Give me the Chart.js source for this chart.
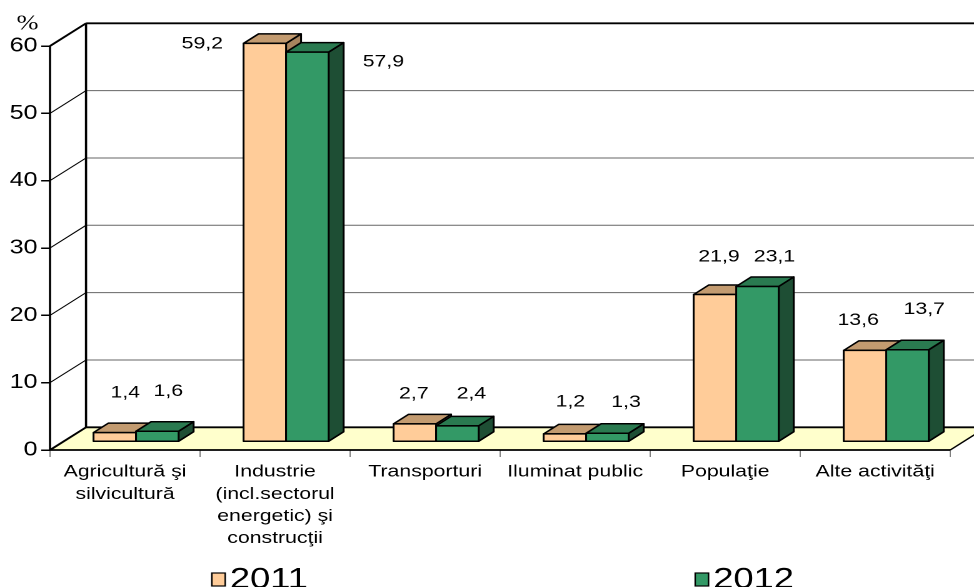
<!DOCTYPE html>
<html>
<head>
<meta charset="utf-8">
<script src="https://cdn.jsdelivr.net/npm/chart.js@4"></script>
<style>
html,body{margin:0;padding:0;background:#fff;overflow:hidden;width:974px;height:587px}
#wrap{width:779px;height:587px;transform:scaleX(1.25032);transform-origin:0 0}
</style>
</head>
<body>
<div id="wrap"><canvas id="c" width="779" height="587"></canvas></div>
<script>
// ---- data ----
const categories = [
  ['Agricultură şi', 'silvicultură'],
  ['Industrie', '(incl.sectorul', 'energetic) şi', 'construcţii'],
  'Transporturi',
  'Iluminat public',
  'Populaţie',
  'Alte activităţi'
];
const seriesNames = ['2011', '2012'];
const values2011 = [1.4, 59.2, 2.7, 1.2, 21.9, 13.6];
const values2012 = [1.6, 57.9, 2.4, 1.3, 23.1, 13.7];
const yTicks = [0, 10, 20, 30, 40, 50, 60];
const unitLabel = '%';

// ---- style ----
const FONT = "'Liberation Sans', Arial, sans-serif";
const faceColors = [
  {front: '#FFCC99', top: '#C39B70', side: '#A8845E'},
  {front: '#339966', top: '#2A7A50', side: '#1E4E34'}
];
const DEPTH = {dx: 28.8, dy: -22.7};      // floor / back wall depth
const BAR_SHIFT = {dx: 8.8, dy: -8};      // bars sit inside the floor
const BAR_DEPTH = {dx: 12, dy: -9.5};     // bar thickness
// data label nudges (logical px) relative to bar front-top centre
const labelNudge = [
  [[8.4, -39.6], [-50, 0.6], [-0.8, -30], [4.4, -32], [3.2, -37.5], [-5.4, -30]],
  [[8.8, -40], [60.8, 9.5], [11.2, -32], [14.9, -31], [13.6, -29.5], [13.4, -40.5]]
];

function fmt(v) { return v.toFixed(1).replace('.', ','); }

function line(ctx, pts, w, col) {
  ctx.beginPath();
  ctx.moveTo(pts[0][0], pts[0][1]);
  for (let i = 1; i < pts.length; i++) ctx.lineTo(pts[i][0], pts[i][1]);
  ctx.lineWidth = w; ctx.strokeStyle = col; ctx.stroke();
}
function poly(ctx, pts, fill, stroke, w) {
  ctx.beginPath();
  ctx.moveTo(pts[0][0], pts[0][1]);
  for (let i = 1; i < pts.length; i++) ctx.lineTo(pts[i][0], pts[i][1]);
  ctx.closePath();
  if (fill) { ctx.fillStyle = fill; ctx.fill(); }
  if (stroke) { ctx.lineWidth = w; ctx.strokeStyle = stroke; ctx.lineJoin = 'round'; ctx.stroke(); }
}

const scene3d = {
  id: 'scene3d',
  beforeDatasetsDraw(chart) {
    const ctx = chart.ctx, ys = chart.scales.y, ca = chart.chartArea;
    const L = ca.left, R = ca.right;
    const y0 = ys.getPixelForValue(yTicks[0]);
    const yMax = ys.getPixelForValue(yTicks[yTicks.length - 1]);
    const dx = DEPTH.dx, dy = DEPTH.dy;
    ctx.save();
    // back wall
    ctx.fillStyle = '#fff';
    ctx.fillRect(L + dx, yMax + dy, R - L, y0 - yMax);
    yTicks.forEach(v => {
      const y = ys.getPixelForValue(v) + dy;
      if (v !== yTicks[0] && v !== yTicks[yTicks.length - 1]) line(ctx, [[L + dx, y], [R + dx + 5, y]], 1, '#666');
    });
    // left wall
    poly(ctx, [[L, yMax], [L + dx, yMax + dy], [L + dx, y0 + dy], [L, y0]], '#fff');
    yTicks.forEach(v => {
      const y = ys.getPixelForValue(v);
      if (v !== yTicks[0] && v !== yTicks[yTicks.length - 1]) line(ctx, [[L, y], [L + dx, y + dy]], 1, '#000');
    });
    // floor
    poly(ctx, [[L, y0], [R, y0], [R + dx, y0 + dy], [L + dx, y0 + dy]], '#FFFFCC');
    // outlines
    const k = '#000';
    line(ctx, [[L + dx, yMax + dy], [R + dx + 5, yMax + dy]], 1.8, k);
    line(ctx, [[L + dx, yMax + dy], [L + dx, y0 + dy]], 1.8, k);
    line(ctx, [[L + dx, y0 + dy], [R + dx + 5, y0 + dy]], 1.8, k);
    line(ctx, [[L, yMax], [L + dx, yMax + dy]], 1.8, k);
    line(ctx, [[L, y0], [L + dx, y0 + dy]], 1.8, k);
    line(ctx, [[L, yMax], [L, y0]], 1.8, k);
    line(ctx, [[L, y0], [R, y0]], 1.8, k);
    line(ctx, [[R, y0], [R + dx, y0 + dy]], 1.4, k);
    ctx.restore();
  },
  afterDatasetsDraw(chart) {
    const ctx = chart.ctx;
    const m0 = chart.getDatasetMeta(0), m1 = chart.getDatasetMeta(1);
    const metas = [m0, m1];
    const n = categories.length;
    ctx.save();
    ctx.lineJoin = 'round';
    for (let i = 0; i < n; i++) {
      metas.forEach((meta, d) => {
        const el = meta.data[i];
        const p = el.getProps(['x', 'y', 'base', 'width'], true);
        const l = p.x - p.width / 2 + BAR_SHIFT.dx, r = p.x + p.width / 2 + BAR_SHIFT.dx;
        const t = p.y + BAR_SHIFT.dy, b = p.base + BAR_SHIFT.dy;
        const c = faceColors[d], ddx = BAR_DEPTH.dx, ddy = BAR_DEPTH.dy;
        poly(ctx, [[r, t], [r + ddx, t + ddy], [r + ddx, b + ddy], [r, b]], c.side, '#000', 1.5);
        poly(ctx, [[l, t], [l + ddx, t + ddy], [r + ddx, t + ddy], [r, t]], c.top, '#000', 1.5);
        poly(ctx, [[l, t], [r, t], [r, b], [l, b]], c.front, '#000', 1.5);
      });
    }
    // data labels
    ctx.font = '17px ' + FONT;
    ctx.fillStyle = '#000';
    ctx.textAlign = 'center';
    ctx.textBaseline = 'middle';
    metas.forEach((meta, d) => {
      const vals = chart.data.datasets[d].data;
      meta.data.forEach((el, i) => {
        const p = el.getProps(['x', 'y'], true);
        const nd = labelNudge[d][i];
        ctx.fillText(fmt(vals[i]), p.x + BAR_SHIFT.dx + nd[0], p.y + BAR_SHIFT.dy + nd[1]);
      });
    });
    ctx.restore();
  },
  afterDraw(chart) {
    const ctx = chart.ctx;
    ctx.save();
    // unit label
    ctx.font = "21px 'Liberation Serif', serif";
    ctx.fillStyle = '#000';
    ctx.textAlign = 'center';
    ctx.textBaseline = 'middle';
    ctx.fillText(unitLabel, 22, 24);
    // legend
    const items = [{x: 169.4}, {x: 556}];
    ctx.font = '29px ' + FONT;
    ctx.textAlign = 'left';
    ctx.textBaseline = 'alphabetic';
    items.forEach((it, d) => {
      ctx.fillStyle = faceColors[d].front;
      ctx.fillRect(it.x, 573, 10.7, 13);
      ctx.lineWidth = 1.2; ctx.strokeStyle = '#000';
      ctx.strokeRect(it.x, 573, 10.7, 13);
      ctx.fillStyle = '#000';
      ctx.fillText(seriesNames[d], it.x + 14.5, 588);
    });
    ctx.restore();
  }
};

new Chart(document.getElementById('c'), {
  type: 'bar',
  data: {
    labels: categories,
    datasets: [
      {label: seriesNames[0], data: values2011, backgroundColor: 'rgba(0,0,0,0)', borderWidth: 0},
      {label: seriesNames[1], data: values2012, backgroundColor: 'rgba(0,0,0,0)', borderWidth: 0}
    ]
  },
  options: {
    responsive: false,
    devicePixelRatio: 2,
    animation: false,
    events: [],
    layout: {padding: {top: 46, right: 19, left: 0, bottom: 0}},
    datasets: {bar: {categoryPercentage: 0.567, barPercentage: 1.0}},
    plugins: {legend: {display: false}, tooltip: {enabled: false}},
    scales: {
      x: {
        grid: {display: true, drawOnChartArea: false, drawTicks: true, tickLength: 7, color: '#808080', offset: true},
        border: {display: false},
        ticks: {font: {family: FONT, size: 17, lineHeight: 1.3}, color: '#000', padding: 4, maxRotation: 0, autoSkip: false},
        afterFit(axis) { axis.height = 137; }
      },
      y: {
        min: yTicks[0], max: yTicks[yTicks.length - 1],
        grid: {display: true, drawOnChartArea: false, drawTicks: true, tickLength: 7, color: '#000', lineWidth: 1.5},
        border: {display: false},
        ticks: {stepSize: 10, font: {family: FONT, size: 20}, color: '#000', padding: 3},
        afterFit(axis) { axis.width = 40; }
      }
    }
  },
  plugins: [scene3d]
});
</script>
</body>
</html>
